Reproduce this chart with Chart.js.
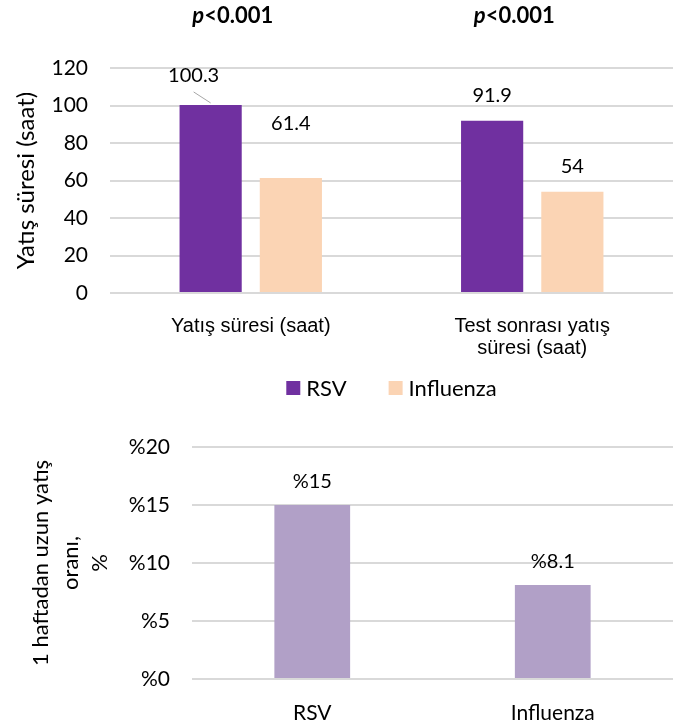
<!DOCTYPE html>
<html>
<head>
<meta charset="utf-8">
<script src="https://cdn.jsdelivr.net/npm/chart.js@4.4.1/dist/chart.umd.min.js"></script>
<style>
    html, body { margin: 0; padding: 0; background: #fff; }
    #page { position: relative; width: 673px; height: 725px; overflow: hidden; }
    #stay-box { position: absolute; left: 0; top: 0; width: 673px; height: 410px; }
    #week-box { position: absolute; left: 0; top: 405px; width: 673px; height: 320px; }
</style>
</head>
<body>
<div id="page">
    <div id="stay-box"><canvas id="stay-chart"></canvas></div>
    <div id="week-box"><canvas id="week-chart"></canvas></div>
</div>
<script>
// top chart: hours in hospital
const stayCategories = [["Yatış süresi (saat)"], ["Test sonrası yatış", "süresi (saat)"]];
const stayRsv = [100.3, 91.9];
const stayInfluenza = [61.4, 54];
const stayTicks = [0, 20, 40, 60, 80, 100, 120];
const pValues = ["<0.001", "<0.001"];

// bottom chart: share of stays longer than one week
const weekCategories = ["RSV", "Influenza"];
const weekShare = [15, 8.1];
const weekTicks = [0, 5, 10, 15, 20];

(function () {
    const black = "#000000";
    const gridColor = "#d9d9d9";
    const lato = "Lato, 'Open Sans', sans-serif";
    const arial = "'Liberation Sans', Arial, sans-serif";

    // value labels above the bars; nudges move single labels like in the original slide
    const barValueLabels = {
        id: "barValueLabels",
        afterDatasetsDraw(chart, args, opts) {
            const ctx = chart.ctx;
            ctx.save();
            ctx.font = "20px " + lato;
            ctx.fillStyle = black;
            ctx.textAlign = "center";
            ctx.textBaseline = "middle";
            chart.data.datasets.forEach((ds, di) => {
                const meta = chart.getDatasetMeta(di);
                meta.data.forEach((bar, i) => {
                    const nudge = (opts.nudges && opts.nudges[di] && opts.nudges[di][i]) || [0, 0, false];
                    const x = bar.x + nudge[0];
                    const y = bar.y - opts.gap + nudge[1];
                    ctx.fillText(opts.format(ds.data[i]), x, y);
                    if (nudge[2]) {
                        ctx.strokeStyle = "#a6a6a6";
                        ctx.lineWidth = 1;
                        ctx.beginPath();
                        ctx.moveTo(x, y + 16);
                        ctx.lineTo(bar.x, bar.y - 2);
                        ctx.stroke();
                    }
                });
            });
            ctx.restore();
        },
    };

    // "p<0.001" notes above each group, p in italics
    const pValueNotes = {
        id: "pValueNotes",
        afterDraw(chart) {
            const ctx = chart.ctx;
            const xScale = chart.scales.x;
            ctx.save();
            ctx.fillStyle = black;
            ctx.textBaseline = "middle";
            ctx.textAlign = "left";
            pValues.forEach((text, i) => {
                const cx = xScale.getPixelForValue(i) - 18;
                ctx.font = "italic bold 22px " + lato;
                const pw = ctx.measureText("p").width;
                ctx.font = "bold 22px " + lato;
                const tw = ctx.measureText(text).width;
                const x = cx - (pw + tw) / 2;
                ctx.font = "italic bold 22px " + lato;
                ctx.fillText("p", x, 16);
                ctx.font = "bold 22px " + lato;
                ctx.fillText(text, x + pw, 16);
            });
            ctx.restore();
        },
    };

    // legend drawn by hand so it can sit centred under the plot area
    const plotLegend = {
        id: "plotLegend",
        afterDraw(chart, args, opts) {
            const ctx = chart.ctx;
            const area = chart.chartArea;
            const box = 14;
            const textGap = 6;
            const itemGap = 42;
            ctx.save();
            ctx.font = "22px " + lato;
            ctx.textBaseline = "middle";
            ctx.textAlign = "left";
            const items = chart.data.datasets.map((ds) => ({
                text: ds.label,
                color: ds.backgroundColor,
                width: box + textGap + ctx.measureText(ds.label).width,
            }));
            const total = items.reduce((acc, it) => acc + it.width, 0) + itemGap * (items.length - 1);
            let x = (area.left + area.right) / 2 - total / 2;
            const y = area.bottom + opts.offset;
            items.forEach((it) => {
                ctx.fillStyle = it.color;
                ctx.fillRect(x, y - box / 2, box, box);
                ctx.fillStyle = black;
                ctx.fillText(it.text, x + box + textGap, y + 1);
                x += it.width + itemGap;
            });
            ctx.restore();
        },
    };

    new Chart(document.getElementById("stay-chart"), {
        type: "bar",
        data: {
            labels: stayCategories,
            datasets: [
                {
                    label: "RSV",
                    data: stayRsv,
                    backgroundColor: "#7030a0",
                    borderWidth: 0,
                    categoryPercentage: 0.57,
                    barPercentage: 0.775,
                },
                {
                    label: "Influenza",
                    data: stayInfluenza,
                    backgroundColor: "#fbd4b4",
                    borderWidth: 0,
                    categoryPercentage: 0.57,
                    barPercentage: 0.775,
                },
            ],
        },
        plugins: [barValueLabels, pValueNotes, plotLegend],
        options: {
            responsive: true,
            maintainAspectRatio: false,
            animation: false,
            layout: { padding: { top: 68, right: 0, bottom: 47, left: 0 } },
            scales: {
                x: {
                    grid: { display: false },
                    border: { display: false },
                    ticks: {
                        font: { family: arial, size: 20, lineHeight: 1.1 },
                        color: black,
                        padding: 14,
                        maxRotation: 0,
                        autoSkip: false,
                    },
                    afterFit(scale) {
                        scale.height = 70;
                    },
                },
                y: {
                    min: 0,
                    max: 120,
                    afterBuildTicks(scale) {
                        scale.ticks = stayTicks.map((v) => ({ value: v }));
                    },
                    ticks: { font: { family: lato, size: 21 }, color: black, padding: 22 },
                    grid: { color: gridColor, lineWidth: 2, drawTicks: false },
                    border: { display: false },
                    title: {
                        display: true,
                        text: "Yatış süresi (saat)",
                        font: { family: lato, size: 24 },
                        color: black,
                        padding: { top: 12, bottom: 0 },
                    },
                    afterFit(scale) {
                        scale.width = 110;
                    },
                },
            },
            plugins: {
                legend: { display: false },
                tooltip: { enabled: false },
                plotLegend: { offset: 95 },
                barValueLabels: {
                    gap: 25,
                    format: (v) => String(v),
                    nudges: [[[-17, -4, true], [0, 0, false]], [[0, -29, false], [0, 0, false]]],
                },
            },
        },
    });

    new Chart(document.getElementById("week-chart"), {
        type: "bar",
        data: {
            labels: weekCategories,
            datasets: [
                {
                    label: "1 haftadan uzun yatış oranı",
                    data: weekShare,
                    backgroundColor: "#b1a0c7",
                    borderWidth: 0,
                    categoryPercentage: 1,
                    barPercentage: 0.315,
                },
            ],
        },
        plugins: [barValueLabels],
        options: {
            responsive: true,
            maintainAspectRatio: false,
            animation: false,
            layout: { padding: { top: 42, right: 0, bottom: 0, left: 0 } },
            scales: {
                x: {
                    grid: { display: false },
                    border: { display: false },
                    ticks: { font: { family: lato, size: 21 }, color: black, padding: 14 },
                    afterFit(scale) {
                        scale.height = 46;
                    },
                },
                y: {
                    min: 0,
                    max: 20,
                    afterBuildTicks(scale) {
                        scale.ticks = weekTicks.map((v) => ({ value: v }));
                    },
                    ticks: {
                        font: { family: lato, size: 21 },
                        color: black,
                        padding: 22,
                        callback: (v) => "%" + v,
                    },
                    grid: { color: gridColor, lineWidth: 2, drawTicks: false },
                    border: { display: false },
                    title: {
                        display: true,
                        text: ["1 haftadan uzun yatış", "oranı,", "%"],
                        font: { family: lato, size: 22, lineHeight: 1.35 },
                        color: black,
                        padding: { top: 26, bottom: 0 },
                    },
                    afterFit(scale) {
                        scale.width = 192;
                    },
                },
            },
            plugins: {
                legend: { display: false },
                tooltip: { enabled: false },
                barValueLabels: {
                    gap: 23,
                    format: (v) => "%" + v,
                },
            },
        },
    });
})();
</script>
</body>
</html>
